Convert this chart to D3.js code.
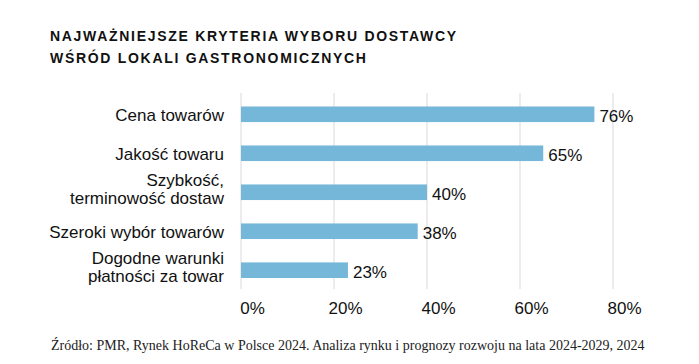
<!DOCTYPE html>
<html>
<head>
<meta charset="utf-8">
<script src="https://cdn.jsdelivr.net/npm/d3@7"></script>
<style>
  body { margin: 0; background: #fff; }
  svg { display: block; }
</style>
</head>
<body>
<div id="chart"></div>
<script>
// --- Data ---
const titleLines = ["NAJWAŻNIEJSZE KRYTERIA WYBORU DOSTAWCY", "WŚRÓD LOKALI GASTRONOMICZNYCH"];
const categories = [
  ["Cena towarów"],
  ["Jakość towaru"],
  ["Szybkość,", "terminowość dostaw"],
  ["Szeroki wybór towarów"],
  ["Dogodne warunki", "płatności za towar"]
];
const values = [76, 65, 40, 38, 23];
const ticks = [0, 20, 40, 60, 80];
const source = "Źródło: PMR, Rynek HoReCa w Polsce 2024. Analiza rynku i prognozy rozwoju na lata 2024-2029, 2024";

// --- Settings ---
const width = 699, height = 364;
const barColor = "#74b7d9";
const gridColor = "#d9d9d9";
const textColor = "#111";
const sans = "'Liberation Sans', Arial, sans-serif";

const svg = d3.select("#chart").append("svg")
  .attr("width", width)
  .attr("height", height);

// Title
svg.append("g")
  .selectAll("text")
  .data(titleLines)
  .join("text")
  .attr("x", 50)
  .attr("y", (d, i) => 41 + i * 22)
  .attr("font-family", sans)
  .attr("font-weight", "bold")
  .attr("font-size", "14px")
  .attr("letter-spacing", "1.7px")
  .attr("fill", textColor)
  .text(d => d);

// Scales
const x = d3.scaleLinear().domain([0, 80]).range([241, 613]);
const y = d3.scaleBand()
  .domain(d3.range(categories.length))
  .range([87, 297.5])
  .paddingInner(0.6)
  .paddingOuter(0.5);

// Grid lines
svg.append("g")
  .selectAll("line")
  .data(ticks)
  .join("line")
  .attr("x1", d => x(d))
  .attr("x2", d => x(d))
  .attr("y1", 93)
  .attr("y2", 289)
  .attr("stroke", gridColor)
  .attr("stroke-width", 1);

// Tick labels (x axis)
const xAxis = svg.append("g")
  .attr("transform", "translate(0,314)")
  .call(d3.axisBottom(x).tickValues(ticks).tickSize(0).tickPadding(0).tickFormat(d => d + "%"));
xAxis.select(".domain").remove();
xAxis.selectAll("text")
  .attr("dy", 0)
  .attr("dx", 11)
  .attr("font-family", sans)
  .attr("font-size", "17px")
  .attr("fill", textColor);

// Bars
svg.append("g")
  .selectAll("rect")
  .data(values)
  .join("rect")
  .attr("x", x(0))
  .attr("y", (d, i) => y(i))
  .attr("width", d => x(d) - x(0))
  .attr("height", y.bandwidth())
  .attr("fill", barColor);

// Value labels
svg.append("g")
  .selectAll("text")
  .data(values)
  .join("text")
  .attr("x", d => x(d) + 5)
  .attr("y", (d, i) => y(i) + y.bandwidth() / 2 + 8)
  .attr("font-family", sans)
  .attr("font-size", "17px")
  .attr("fill", textColor)
  .text(d => d + "%");

// Category labels (one text per line)
categories.forEach((lines, i) => {
  const c = y(i) + y.bandwidth() / 2;
  const y0 = lines.length > 1 ? c - 6 : c + 6.5;
  svg.append("g")
    .selectAll("text")
    .data(lines)
    .join("text")
    .attr("x", 224)
    .attr("y", (d, j) => y0 + j * 18)
    .attr("text-anchor", "end")
    .attr("font-family", sans)
    .attr("font-size", "17px")
    .attr("fill", textColor)
    .text(d => d);
});

// Source
svg.append("text")
  .attr("x", 51)
  .attr("y", 350)
  .attr("font-family", "'Liberation Serif', 'Times New Roman', serif")
  .attr("font-size", "14px")
  .attr("fill", "#222")
  .text(source);
</script>
</body>
</html>
